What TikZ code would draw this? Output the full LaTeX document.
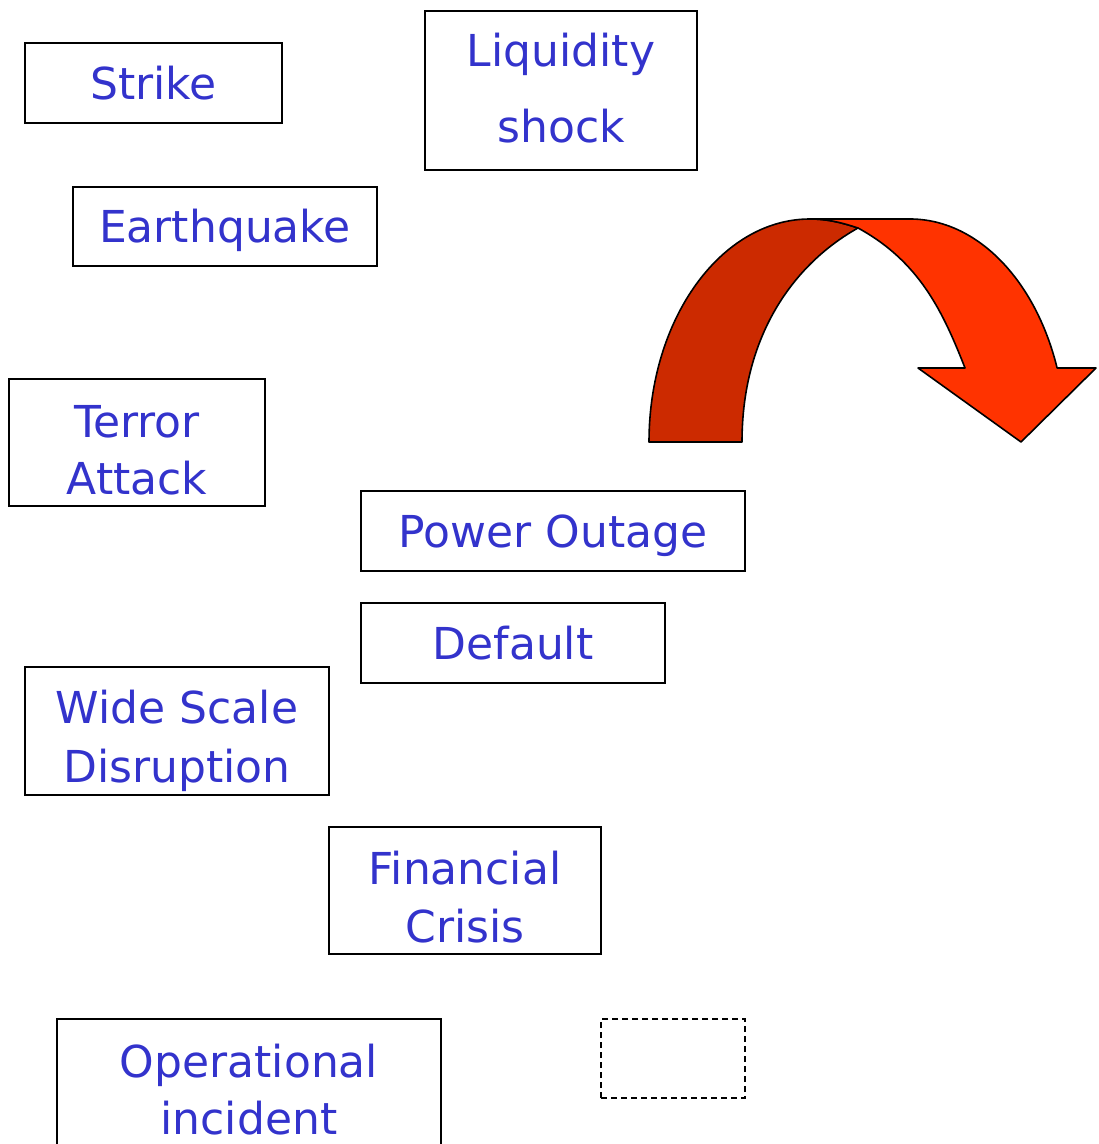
\documentclass[tikz,border=0pt]{standalone}
\usepackage{fontspec}
\setmainfont{DejaVu Sans}
\definecolor{txtblue}{RGB}{51,51,204}
\definecolor{arrowdark}{RGB}{204,42,0}
\definecolor{arrowlight}{RGB}{255,51,0}
\begin{document}
\begin{tikzpicture}[x=0.5pt,y=-0.5pt,
  box/.style={draw=black, line width=1pt, fill=white, text=txtblue,
    align=center, inner sep=0pt, font=\fontsize{22}{28.5}\selectfont},
  oneline/.style={box, text height=16.5pt, text depth=0pt},
  twoline/.style={box, text height=#1, text depth=0pt},
  emptybox/.style={draw=black, line width=0.8pt, dash pattern=on 3pt off 2pt},
  arrowedge/.style={draw=black, line width=0.8pt, line join=round}]
\useasboundingbox (0,0) rectangle (1098,1144);
\clip (0,0) rectangle (1098,1144);

% event boxes
\node[oneline, minimum width=128.5pt, minimum height=40pt] (strike) at (153.5,83) {Strike};
\node[twoline=52.5pt, font=\fontsize{22}{38}\selectfont, minimum width=136pt, minimum height=79.5pt] (liquidity) at (561,90.5) {Liquidity\\shock};
\node[oneline, minimum width=152pt, minimum height=39.5pt] (quake) at (225,226.5) {Earthquake};
\node[twoline=51.5pt, minimum width=128pt, minimum height=63.5pt] (terror) at (137,442.5) {Terror\\Attack};
\node[oneline, minimum width=192pt, minimum height=40pt] (power) at (553,531) {Power Outage};
\node[oneline, minimum width=152pt, minimum height=40pt] (default) at (513,643) {Default};
\node[twoline=51pt, font=\fontsize{22}{29.5}\selectfont, minimum width=152pt, minimum height=64pt] (wide) at (177,731) {Wide Scale\\Disruption};
\node[twoline=51.5pt, font=\fontsize{22}{29}\selectfont, minimum width=136pt, minimum height=63.5pt] (financial) at (465,890.5) {Financial\\Crisis};
\node[twoline=51.5pt, minimum width=192pt, minimum height=63.5pt] (operational) at (249,1082.5) {Operational\\incident};
\node[emptybox, minimum width=72pt, minimum height=39.5pt] (blank) at (673,1058.5) {};

% curved arrow: rising band (shaded) and falling band with its head
\path[arrowedge, fill=arrowdark]
  (649,442) .. controls (649,318.8) and (721.1,219) .. (810,219)
  .. controls (828,219) and (843,223) .. (858,228)
  .. controls (797,262) and (742,332) .. (742,442) -- cycle;
\path[arrowedge, fill=arrowlight]
  (810,219) -- (910,219)
  .. controls (976.2,219) and (1035.1,278.8) .. (1057.1,368)
  -- (1096,368) -- (1021,442) -- (918,368) -- (965,368)
  .. controls (943,312) and (919.6,261.6) .. (858,228)
  .. controls (843,223) and (828,219) .. (810,219) -- cycle;
\end{tikzpicture}
\end{document}
